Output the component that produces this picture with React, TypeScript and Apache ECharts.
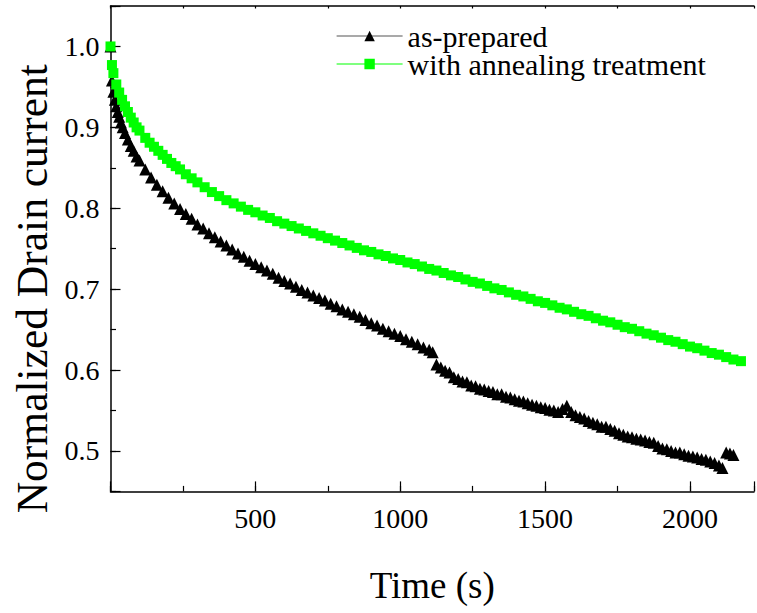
import React, { useEffect, useRef } from 'react';
import * as echarts from 'echarts';

const seriesNames = ['as-prepared', 'with annealing treatment'];
const xTickLabels = [500, 1000, 1500, 2000];
const yTickLabels = [0.5, 0.6, 0.7, 0.8, 0.9, 1.0];
const xRange = [0, 2221];
const yRange = [0.45, 1.05];

const asPreparedTime = [
  0, 5, 10, 15, 20, 25, 30, 36, 42, 50, 60, 70, 80, 90,
  100, 120, 140, 160, 180, 200, 220, 240, 260, 280, 300, 320, 340, 360, 380,
  400, 420, 440, 460, 480, 500, 520, 540, 560, 580, 600, 620, 640, 660, 680,
  700, 720, 740, 760, 780, 800, 820, 840, 860, 880, 900, 920, 940, 960, 980,
  1000, 1020, 1040, 1060, 1080, 1100, 1112,
  1125, 1140, 1155, 1170, 1185, 1200, 1215, 1230, 1245, 1260, 1275, 1290, 1305,
  1320, 1335, 1350, 1365, 1380, 1395, 1410, 1425, 1440, 1455, 1470, 1485, 1500,
  1515, 1530, 1545, 1560, 1575, 1590, 1605, 1620, 1635, 1650, 1665, 1680, 1695,
  1710, 1725, 1740, 1755, 1770, 1785, 1800, 1815, 1830, 1845, 1860, 1875, 1890,
  1905, 1920, 1935, 1950, 1965, 1980, 1995, 2010, 2025, 2040, 2055, 2070, 2085,
  2100, 2112, 2125, 2138, 2150,
];
const asPreparedValue = [
  1.0, 0.958, 0.944, 0.934, 0.926, 0.919, 0.913, 0.906, 0.9, 0.893, 0.885, 0.877, 0.871, 0.864,
  0.859, 0.848, 0.838, 0.829, 0.821, 0.813, 0.806, 0.799, 0.793, 0.787, 0.78, 0.775, 0.769, 0.764, 0.759,
  0.754, 0.749, 0.744, 0.74, 0.735, 0.731, 0.727, 0.723, 0.719, 0.714, 0.71, 0.707, 0.703, 0.699, 0.696,
  0.692, 0.689, 0.686, 0.682, 0.679, 0.675, 0.672, 0.669, 0.666, 0.662, 0.658, 0.655, 0.651, 0.648, 0.645,
  0.642, 0.638, 0.635, 0.632, 0.628, 0.625, 0.622,
  0.607, 0.603, 0.599, 0.597, 0.591, 0.589, 0.586, 0.585, 0.581, 0.58, 0.577, 0.576, 0.574,
  0.573, 0.57, 0.57, 0.567, 0.566, 0.564, 0.562, 0.561, 0.559, 0.557, 0.556, 0.554, 0.553,
  0.551, 0.55, 0.548, 0.552, 0.556, 0.548, 0.544, 0.542, 0.54, 0.537, 0.535, 0.533, 0.53,
  0.53, 0.527, 0.525, 0.522, 0.52, 0.518, 0.517, 0.515, 0.514, 0.513, 0.511, 0.51, 0.506,
  0.503, 0.502, 0.5, 0.498, 0.498, 0.496, 0.494, 0.493, 0.492, 0.49, 0.489, 0.487, 0.485,
  0.482, 0.479, 0.498, 0.497, 0.495,
];

const annealedTime = [
  0, 5, 10, 20, 30, 40, 50, 60, 70, 80, 90, 100, 120,
  135, 150, 165, 180, 195, 210, 225, 240, 260, 280,
  300, 325, 350, 375, 400, 425, 450, 475, 500, 525, 550, 575, 600, 625, 650, 675,
  700, 725, 750, 775, 800, 825, 850, 875, 900, 925, 950, 975, 1000, 1025, 1050, 1075,
  1100, 1125, 1150, 1175, 1200, 1225, 1250, 1275, 1300, 1325, 1350, 1375, 1400, 1425,
  1450, 1475, 1500, 1525, 1550, 1575, 1600, 1625, 1650, 1675, 1700, 1725, 1750, 1775,
  1800, 1825, 1850, 1875, 1900, 1925, 1950, 1975, 2000, 2025, 2050, 2075, 2100, 2125,
  2150, 2176,
];
const annealedValue = [
  1.0, 0.977, 0.967, 0.953, 0.943, 0.934, 0.926, 0.919, 0.912, 0.906, 0.9, 0.896, 0.887,
  0.881, 0.876, 0.871, 0.866, 0.861, 0.856, 0.852, 0.848, 0.842, 0.837,
  0.832, 0.826, 0.82, 0.815, 0.81, 0.806, 0.802, 0.798, 0.795, 0.791, 0.788, 0.784, 0.781, 0.778, 0.775, 0.772,
  0.769, 0.766, 0.763, 0.76, 0.757, 0.754, 0.751, 0.748, 0.746, 0.743, 0.741, 0.738, 0.736, 0.733, 0.731, 0.728,
  0.725, 0.723, 0.72, 0.717, 0.715, 0.712, 0.709, 0.707, 0.704, 0.701, 0.699, 0.696, 0.693, 0.691,
  0.688, 0.685, 0.683, 0.68, 0.677, 0.675, 0.672, 0.669, 0.667, 0.664, 0.661, 0.659, 0.656, 0.653,
  0.651, 0.648, 0.645, 0.643, 0.64, 0.637, 0.635, 0.632, 0.629, 0.627, 0.624, 0.621, 0.619, 0.616,
  0.613, 0.611,
];

const FONT = 'Liberation Serif';
const axisLineStyle = { show: true, lineStyle: { color: '#000', width: 1.5 } };
const tickText = { fontFamily: FONT, fontSize: 28, color: '#000' };
const legendText = { fontFamily: FONT, fontSize: 30, color: '#000', lineHeight: 26 };

export default function App() {
  const ref = useRef<HTMLDivElement>(null);
  useEffect(() => {
    if (!ref.current) return;
    const chart = echarts.init(ref.current, undefined, { renderer: 'svg' });
    const asPrepared = asPreparedTime.map((t, i) => [t, asPreparedValue[i]]);
    const annealed = annealedTime.map((t, i) => [t, annealedValue[i]]);
    const xFmt = (v: number) => (xTickLabels.includes(v) ? String(v) : '');
    const yFmt = (v: number) =>
      yTickLabels.some((l) => Math.abs(l - v) < 1e-6) ? v.toFixed(1) : '';
    chart.setOption({
      animation: false,
      backgroundColor: '#fff',
      textStyle: { fontFamily: FONT, color: '#000' },
      grid: { left: 110.5, top: 6, right: 0, bottom: 121.6, containLabel: false },
      legend: {
        orient: 'vertical',
        left: 331,
        top: 16,
        itemWidth: 66,
        itemHeight: 13,
        itemGap: -2,
        textStyle: { ...legendText },
        data: [
          { name: seriesNames[0], lineStyle: { color: '#555', width: 1.2, opacity: 1 }, textStyle: { ...legendText } },
          { name: seriesNames[1], lineStyle: { color: '#00ff00', width: 1.2, opacity: 1 }, textStyle: { ...legendText } },
        ],
      },
      xAxis: [
        {
          type: 'value', min: xRange[0], max: xRange[1], interval: 250, position: 'bottom',
          axisLine: axisLineStyle,
          axisTick: { show: true, inside: true, length: 5.5, lineStyle: { color: '#000', width: 1.2 } },
          axisLabel: { show: false }, splitLine: { show: false },
        },
        {
          type: 'value', min: xRange[0], max: xRange[1], interval: 500, position: 'bottom',
          axisLine: { show: false },
          axisTick: { show: true, inside: true, length: 10, lineStyle: { color: '#000', width: 1.2 } },
          axisLabel: { show: true, formatter: xFmt, ...tickText, margin: 13 },
          splitLine: { show: false },
          name: 'Time (s)', nameLocation: 'middle', nameGap: 76,
          nameTextStyle: { fontFamily: FONT, fontSize: 37, color: '#000' },
        },
        {
          type: 'value', min: xRange[0], max: xRange[1], interval: 250, position: 'top',
          axisLine: axisLineStyle,
          axisTick: { show: true, inside: true, length: 2.5, lineStyle: { color: '#000', width: 1.2 } },
          axisLabel: { show: false }, splitLine: { show: false },
        },
      ],
      yAxis: [
        {
          type: 'value', min: yRange[0], max: yRange[1], interval: 0.05, position: 'left',
          axisLine: axisLineStyle,
          axisTick: { show: true, inside: true, length: 5.5, lineStyle: { color: '#000', width: 1.2 } },
          axisLabel: { show: false }, splitLine: { show: false },
        },
        {
          type: 'value', min: yRange[0], max: yRange[1], splitNumber: 6, position: 'left',
          axisLine: { show: false },
          axisTick: { show: true, inside: true, length: 10, lineStyle: { color: '#000', width: 1.2 } },
          axisLabel: { show: true, formatter: yFmt, ...tickText, margin: 11 },
          splitLine: { show: false },
          name: 'Normalized Drain current', nameLocation: 'middle', nameGap: 57,
          nameTextStyle: { fontFamily: FONT, fontSize: 43.5, color: '#000', padding: [0, 80, 0, 0] },
        },
      ],
      series: [
        {
          name: seriesNames[0], type: 'line', xAxisIndex: 0, yAxisIndex: 0,
          data: asPrepared, symbol: 'triangle', symbolSize: 12, showSymbol: true,
          itemStyle: { color: '#000' }, lineStyle: { opacity: 0 }, z: 2,
        },
        {
          name: seriesNames[1], type: 'line', xAxisIndex: 0, yAxisIndex: 0,
          data: annealed, symbol: 'rect', symbolSize: 10, showSymbol: true,
          itemStyle: { color: '#00ff00' }, lineStyle: { opacity: 0 }, z: 3,
        },
      ],
    });
    return () => chart.dispose();
  }, []);
  return (
    <div
      ref={ref}
      style={{ position: 'fixed', left: 0, top: 0, width: 757, height: 613, background: '#fff' }}
    />
  );
}
